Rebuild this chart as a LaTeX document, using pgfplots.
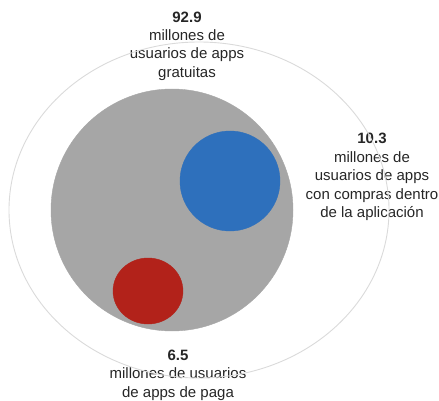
\documentclass[border=0pt]{standalone}
\usepackage{pgfplots}
\pgfplotsset{compat=1.18}
\usepackage{fontspec}
\setmainfont{Liberation Sans}
\definecolor{cgray}{RGB}{166,166,166}
\definecolor{cblue}{RGB}{46,112,188}
\definecolor{cred}{RGB}{178,34,26}
\definecolor{cring}{RGB}{218,218,218}
\tikzset{lbl/.style={font=\fontsize{15}{18.4}\selectfont, align=center, inner sep=0pt, text=black!85}}
\begin{document}
\begin{tikzpicture}
\useasboundingbox (0,0) rectangle (439pt,400pt);
\begin{axis}[
  at={(0,0)}, anchor=south west,
  scale only axis, width=439pt, height=400pt,
  xmin=0, xmax=439, ymin=0, ymax=400,
  hide axis, clip=false,
]
% outer ring
\addplot[only marks, mark=o, mark size=168pt, cring, line width=0.9pt, mark options={xscale=1.131, fill=none}] coordinates {(199,190)};
% 92.9 gratuitas
\addplot[only marks, mark=*, mark size=121pt, cgray, mark options={fill=cgray}] coordinates {(172,190)};
% 10.3 compras dentro
\addplot[only marks, mark=*, mark size=50pt, cblue, mark options={fill=cblue}] coordinates {(230,219)};
% 6.5 de paga
\addplot[only marks, mark=*, mark size=33pt, cred, mark options={fill=cred, xscale=1.06}] coordinates {(148,109)};
\node[lbl] at (axis cs:187,354) {\textbf{92.9}\\millones de\\usuarios de apps\\gratuitas};
\node[lbl] at (axis cs:372,223) {\textbf{10.3}\\millones de\\usuarios de apps\\con compras dentro\\de la aplicación};
\node[lbl] at (axis cs:178,25) {\textbf{6.5}\\millones de usuarios\\de apps de paga};
\end{axis}
\end{tikzpicture}
\end{document}
